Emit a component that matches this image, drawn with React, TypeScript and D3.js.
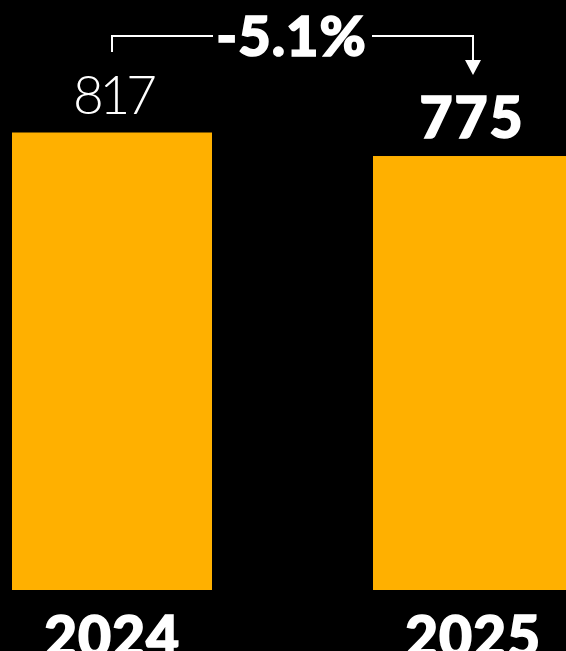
import React from "react";
import * as d3 from "d3";

const years = ["2024", "2025"];
const values = [817, 775];
const valueLabels = ["817", "775"];
const changeLabel = "-5.1%";

const W = 566;
const H = 651;
const ORANGE = "#FFB000";
const FONT = "Lato, 'Open Sans', sans-serif";

export default function App() {
  const x = d3.scaleBand<string>().domain(years).range([12, 573]).paddingInner(161 / 361).paddingOuter(0);
  const y = d3.scaleLinear().domain([0, 817]).range([590, 132.5]);
  const bw = x.bandwidth();
  const cx = (i: number) => (x(years[i]) as number) + bw / 2;

  const x1 = cx(0);
  const x2 = cx(1);
  const mid = (x1 + x2) / 2;
  const topY = 36;

  const bold = {
    fill: "#fff",
    stroke: "#fff",
    strokeWidth: 1.6,
    fontFamily: FONT,
    fontWeight: 900,
    textAnchor: "middle" as const,
  };

  return (
    <svg width={W} height={H} style={{ position: "absolute", left: 0, top: 0, background: "#000" }}>
      <rect x={0} y={0} width={W} height={H} fill="#000" />
      {years.map((yr, i) => (
        <rect key={yr} x={x(yr)} y={y(values[i])} width={bw} height={y(0) - y(values[i])} fill={ORANGE} />
      ))}
      {/* value labels */}
      <text x={cx(0) + 1} y={y(values[0]) - 19} textAnchor="middle" fill="#fff" fontFamily={FONT} fontWeight={300} fontSize={53} letterSpacing={-4}>
        {valueLabels[0]}
      </text>
      <text x={cx(1) - 1} y={y(values[1]) - 18} {...bold} fontSize={57} letterSpacing={2}>
        {valueLabels[1]}
      </text>
      {/* year labels */}
      {years.map((yr, i) => (
        <text key={"l" + yr} x={cx(i)} y={657} {...bold} fontSize={57} letterSpacing={1}>
          {yr}
        </text>
      ))}
      {/* change annotation */}
      <path d={`M${x1},52 V${topY} H213`} fill="none" stroke="#fff" strokeWidth={2} />
      <path d={`M372,${topY} H${x2} V62`} fill="none" stroke="#fff" strokeWidth={2} />
      <path d={`M${x2 - 8},60 L${x2 + 8},60 L${x2},75 Z`} fill="#fff" />
      <text x={mid - 1} y={56} {...bold} fontSize={56} letterSpacing={1}>
        {changeLabel}
      </text>
    </svg>
  );
}
